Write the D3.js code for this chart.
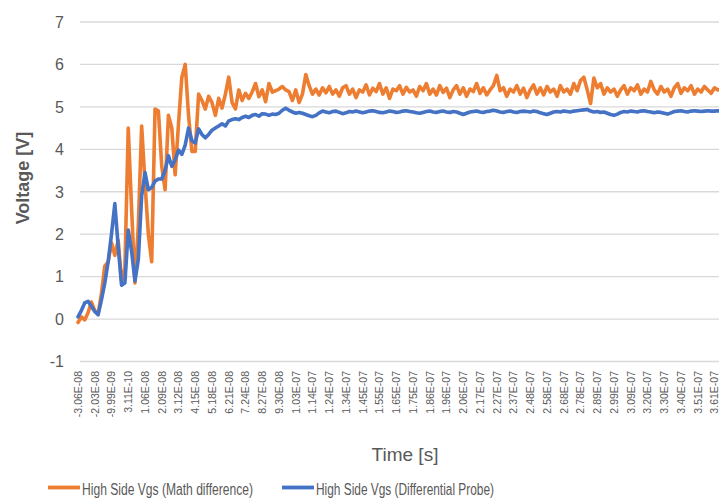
<!DOCTYPE html>
<html>
<head>
<meta charset="utf-8">
<script src="https://cdn.jsdelivr.net/npm/d3@7"></script>
<style>
  body { margin: 0; background: #fff; }
  text { font-family: "Liberation Sans", Arial, sans-serif; fill: #595959; }
</style>
</head>
<body>
<div id="chart"></div>
<script>
// time labels shown on the category axis (every 5th sample)
const tickLabels = ["-3.06E-08", "-2.03E-08", "-9.99E-09", "3.11E-10", "1.06E-08", "2.09E-08", "3.12E-08",
  "4.15E-08", "5.18E-08", "6.21E-08", "7.24E-08", "8.27E-08", "9.30E-08", "1.03E-07", "1.14E-07",
  "1.24E-07", "1.34E-07", "1.45E-07", "1.55E-07", "1.65E-07", "1.75E-07", "1.86E-07", "1.96E-07",
  "2.06E-07", "2.17E-07", "2.27E-07", "2.37E-07", "2.48E-07", "2.58E-07", "2.68E-07", "2.78E-07",
  "2.89E-07", "2.99E-07", "3.09E-07", "3.20E-07", "3.30E-07", "3.40E-07", "3.51E-07", "3.61E-07"];
const labelEvery = 5;

const yTicks = [-1, 0, 1, 2, 3, 4, 5, 6, 7];

const seriesNames = ["High Side Vgs (Math difference)", "High Side Vgs (Differential Probe)"];

// High Side Vgs (Math difference), volts
const mathDiff = [
  -0.08, 0.05, -0.02, 0.15, 0.4, 0.2, 0.12, 0.6, 1.25, 1.35,
  1.8, 1.5, 1.85, 0.9, 1.2, 4.5, 2.6, 0.85, 2.2, 4.55,
  3.2, 2.0, 1.35, 4.95, 4.9, 3.6, 3.05, 4.8, 4.5, 3.4,
  4.6, 5.7, 6.0, 4.8, 3.95, 3.95, 5.3, 5.15, 4.95, 5.25,
  5.1, 4.8, 5.2, 4.97, 5.3, 5.7, 5.1, 4.95, 5.4, 5.15,
  5.32, 5.2, 5.35, 5.55, 5.24, 5.4, 5.12, 5.55, 5.35, 5.38,
  5.42, 5.48, 5.4, 5.36, 5.15, 5.4, 5.1, 5.3, 5.76, 5.5,
  5.3, 5.42, 5.28, 5.45, 5.33, 5.48, 5.3, 5.4, 5.25, 5.45,
  5.5, 5.3, 5.42, 5.22, 5.4, 5.35, 5.52, 5.28, 5.44, 5.36,
  5.55, 5.3, 5.45, 5.2, 5.42, 5.38, 5.5, 5.3, 5.46, 5.35,
  5.4, 5.25, 5.48, 5.38, 5.55, 5.3, 5.42, 5.28, 5.5, 5.34,
  5.44, 5.22, 5.4, 5.5, 5.3, 5.45, 5.25, 5.42, 5.36, 5.55,
  5.32, 5.45, 5.28, 5.4, 5.5, 5.74, 5.38, 5.45, 5.25, 5.42,
  5.35, 5.5, 5.3, 5.44, 5.22, 5.4, 5.52, 5.3, 5.45, 5.28,
  5.48, 5.35, 5.42, 5.25, 5.5, 5.35, 5.42, 5.3, 5.55, 5.38,
  5.62, 5.7, 5.4, 5.08, 5.68, 5.45, 5.55, 5.3, 5.45, 5.35,
  5.42, 5.25, 5.4, 5.5, 5.3, 5.45, 5.38, 5.52, 5.3, 5.42,
  5.35, 5.6, 5.4, 5.3, 5.48, 5.35, 5.42, 5.25, 5.45, 5.55,
  5.32, 5.45, 5.38, 5.5, 5.3, 5.42, 5.35, 5.48, 5.4, 5.32,
  5.45, 5.4, 5.42
];

// High Side Vgs (Differential Probe), volts
const diffProbe = [
  0.05, 0.2, 0.38, 0.42, 0.3, 0.18, 0.1, 0.45, 0.85, 1.35,
  2.0, 2.72, 1.7, 0.8, 0.85, 2.1, 1.6, 0.9, 1.4, 2.9,
  3.45, 3.05, 3.1, 3.25, 3.3, 3.3, 3.5, 3.85, 3.6, 3.75,
  3.98, 3.88, 4.1, 4.5, 4.2, 4.15, 4.48, 4.35, 4.27, 4.35,
  4.45, 4.5, 4.55, 4.6, 4.55, 4.67, 4.7, 4.72, 4.7, 4.75,
  4.78, 4.75, 4.8, 4.82, 4.78, 4.84, 4.83, 4.8, 4.83, 4.82,
  4.85, 4.92, 4.97, 4.92, 4.88, 4.85, 4.87, 4.85, 4.82, 4.79,
  4.77, 4.8, 4.86, 4.9, 4.88, 4.86, 4.89, 4.9, 4.87, 4.84,
  4.86, 4.89, 4.88, 4.9, 4.88, 4.86, 4.88, 4.9, 4.91, 4.89,
  4.87, 4.86, 4.88, 4.9, 4.89, 4.87, 4.88, 4.9, 4.91, 4.89,
  4.88, 4.86, 4.85, 4.87, 4.89, 4.9, 4.88, 4.87, 4.89, 4.9,
  4.88, 4.87, 4.89, 4.88, 4.85, 4.82, 4.85, 4.88, 4.89, 4.9,
  4.88, 4.87, 4.89, 4.9, 4.92, 4.9, 4.88, 4.87, 4.89, 4.9,
  4.88, 4.87, 4.89, 4.9, 4.89, 4.88, 4.9, 4.89, 4.86, 4.84,
  4.82, 4.85, 4.88, 4.89, 4.88, 4.9, 4.89, 4.88, 4.9, 4.91,
  4.92, 4.93, 4.94, 4.9, 4.88, 4.89, 4.87, 4.88, 4.85, 4.82,
  4.8, 4.83, 4.87, 4.89, 4.88, 4.9, 4.89, 4.88, 4.9, 4.91,
  4.89, 4.88, 4.86, 4.88, 4.87, 4.85, 4.83, 4.86, 4.89, 4.9,
  4.91, 4.89, 4.88, 4.9, 4.91, 4.9, 4.89, 4.9, 4.91, 4.9,
  4.9, 4.91, 4.9
];

const colors = ["#ED7D31", "#4472C4"];

(function () {
  const width = 719, height = 498;
  const svg = d3.select("#chart").append("svg")
    .attr("width", width)
    .attr("height", height)
    .style("display", "block");

  const lastTick = (tickLabels.length - 1) * labelEvery;
  const x = d3.scaleLinear().domain([0, lastTick]).range([78, 714.5]);
  const y = d3.scaleLinear().domain([-1, 7]).range([361.5, 22]);

  // gridlines
  svg.append("g")
    .selectAll("line")
    .data(yTicks)
    .enter().append("line")
    .attr("x1", 80).attr("x2", width)
    .attr("y1", d => y(d)).attr("y2", d => y(d))
    .attr("stroke", "#D9D9D9")
    .attr("stroke-width", 1.3);

  // y tick labels
  svg.append("g")
    .selectAll("text")
    .data(yTicks)
    .enter().append("text")
    .attr("x", 64)
    .attr("y", d => y(d))
    .attr("dy", "0.36em")
    .attr("text-anchor", "end")
    .style("font-size", "16px")
    .text(d => d);

  // x tick labels, vertical
  svg.append("g")
    .selectAll("text")
    .data(tickLabels)
    .enter().append("text")
    .attr("transform", (d, i) => `translate(${x(i * labelEvery)},371) rotate(-90)`)
    .attr("dy", "0.36em")
    .attr("text-anchor", "end")
    .style("font-size", "10.5px")
    .text(d => d);

  // series
  const line = d3.line()
    .x((d, i) => x(i))
    .y(d => y(d));

  [mathDiff, diffProbe].forEach((vals, k) => {
    svg.append("path")
      .datum(vals)
      .attr("fill", "none")
      .attr("stroke", colors[k])
      .attr("stroke-width", 3.6)
      .attr("stroke-linejoin", "round")
      .attr("stroke-linecap", "round")
      .attr("d", line);
  });

  // axis titles
  svg.append("text")
    .attr("x", 405).attr("y", 461)
    .attr("text-anchor", "middle")
    .style("font-size", "19px")
    .text("Time [s]");

  svg.append("text")
    .attr("transform", "translate(29,178) rotate(-90)")
    .attr("text-anchor", "middle")
    .style("font-size", "18px")
    .style("font-weight", "bold")
    .text("Voltage [V]");

  // legend
  const legendX = [48, 282];
  const legend = svg.append("g");
  seriesNames.forEach((name, k) => {
    legend.append("line")
      .attr("x1", legendX[k]).attr("x2", legendX[k] + 32)
      .attr("y1", 487.5).attr("y2", 487.5)
      .attr("stroke", colors[k])
      .attr("stroke-width", 3.8);
    legend.append("text")
      .attr("x", legendX[k] + 34).attr("y", 495)
      .attr("textLength", k === 0 ? 171 : 178)
      .attr("lengthAdjust", "spacingAndGlyphs")
      .style("font-size", "16px")
      .text(name);
  });
})();
</script>
</body>
</html>
